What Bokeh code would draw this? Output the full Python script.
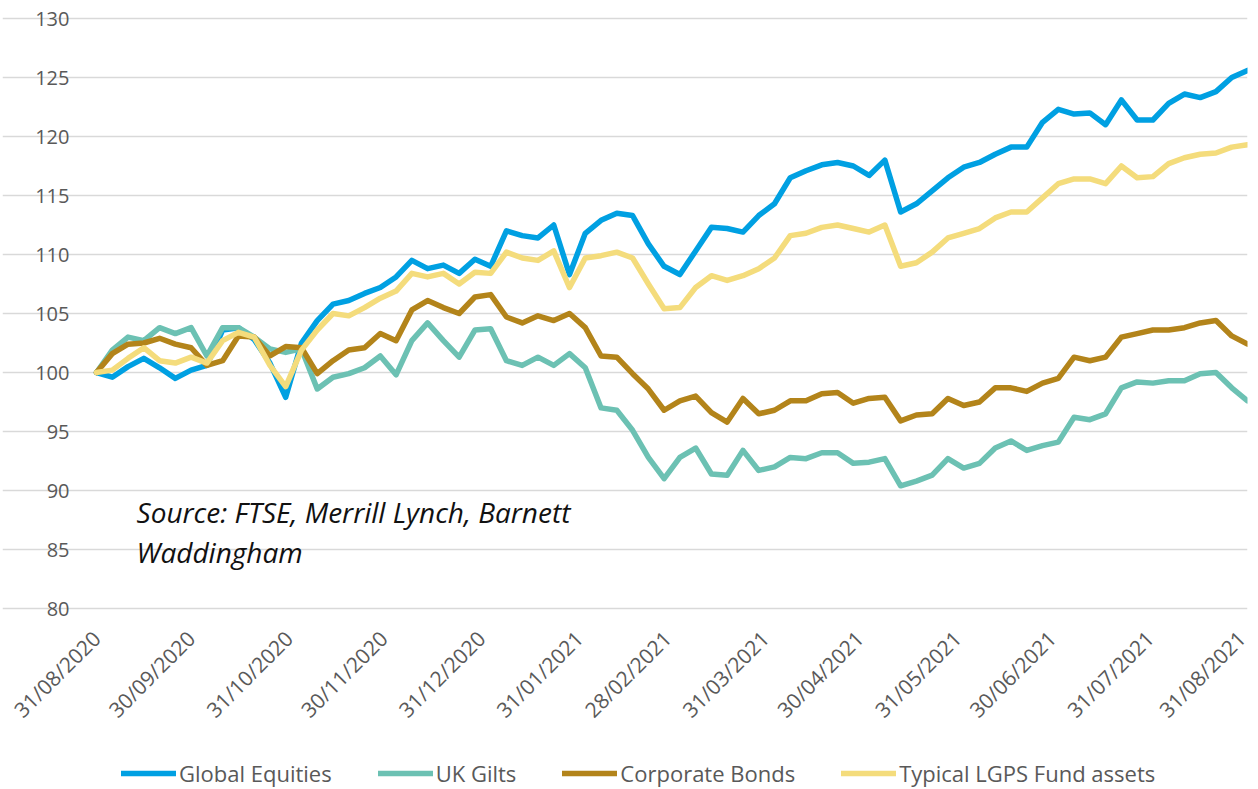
import pandas as pd
from math import pi
from bokeh.plotting import figure
from bokeh.models import Legend, LegendItem, FixedTicker, Label, ColumnDataSource
from bokeh.embed import file_html
from bokeh.resources import INLINE

# ---- data (index every 5 days from 31/08/2020) ----
start_date = "2020-08-31"
step_days = 5

global_equities = [100.0, 99.6, 100.5, 101.2, 100.4, 99.5, 100.2, 100.6, 103.6, 103.8,
                   102.8, 100.8, 97.9, 102.5, 104.4, 105.8, 106.1, 106.7, 107.2, 108.1,
                   109.5, 108.8, 109.1, 108.4, 109.6, 109.0, 112.0, 111.6, 111.4, 112.5,
                   108.3, 111.8, 112.9, 113.5, 113.3, 110.9, 109.0, 108.3, 110.3, 112.3,
                   112.2, 111.9, 113.3, 114.3, 116.5, 117.1, 117.6, 117.8, 117.5, 116.7,
                   118.0, 113.6, 114.3, 115.4, 116.5, 117.4, 117.8, 118.5, 119.1, 119.1,
                   121.2, 122.3, 121.9, 122.0, 121.0, 123.1, 121.4, 121.4, 122.8, 123.6,
                   123.3, 123.8, 125.0, 125.6]

uk_gilts = [100.0, 101.9, 103.0, 102.7, 103.8, 103.3, 103.8, 101.4, 103.8, 103.8,
            103.0, 102.0, 101.7, 102.0, 98.6, 99.6, 99.9, 100.4, 101.4, 99.8,
            102.7, 104.2, 102.7, 101.3, 103.6, 103.7, 101.0, 100.6, 101.3, 100.6,
            101.6, 100.4, 97.0, 96.8, 95.1, 92.8, 91.0, 92.8, 93.6, 91.4,
            91.3, 93.4, 91.7, 92.0, 92.8, 92.7, 93.2, 93.2, 92.3, 92.4,
            92.7, 90.4, 90.8, 91.3, 92.7, 91.9, 92.3, 93.6, 94.2, 93.4,
            93.8, 94.1, 96.2, 96.0, 96.5, 98.7, 99.2, 99.1, 99.3, 99.3,
            99.9, 100.0, 98.7, 97.6]

corporate_bonds = [100.0, 101.6, 102.4, 102.5, 102.9, 102.4, 102.1, 100.6, 101.0, 103.1,
                   103.0, 101.4, 102.2, 102.1, 99.9, 101.0, 101.9, 102.1, 103.3, 102.7,
                   105.3, 106.1, 105.5, 105.0, 106.4, 106.6, 104.7, 104.2, 104.8, 104.4,
                   105.0, 103.8, 101.4, 101.3, 99.9, 98.6, 96.8, 97.6, 98.0, 96.6,
                   95.8, 97.8, 96.5, 96.8, 97.6, 97.6, 98.2, 98.3, 97.4, 97.8,
                   97.9, 95.9, 96.4, 96.5, 97.8, 97.2, 97.5, 98.7, 98.7, 98.4,
                   99.1, 99.5, 101.3, 101.0, 101.3, 103.0, 103.3, 103.6, 103.6, 103.8,
                   104.2, 104.4, 103.1, 102.4]

typical_lgps = [100.0, 100.2, 101.2, 102.1, 101.0, 100.8, 101.3, 100.8, 102.7, 103.4,
                103.0, 100.6, 98.8, 101.9, 103.6, 105.0, 104.8, 105.5, 106.3, 106.9,
                108.4, 108.1, 108.4, 107.5, 108.5, 108.4, 110.2, 109.7, 109.5, 110.3,
                107.2, 109.7, 109.9, 110.2, 109.7, 107.5, 105.4, 105.5, 107.2, 108.2,
                107.8, 108.2, 108.8, 109.7, 111.6, 111.8, 112.3, 112.5, 112.2, 111.9,
                112.5, 109.0, 109.3, 110.2, 111.4, 111.8, 112.2, 113.1, 113.6, 113.6,
                114.8, 116.0, 116.4, 116.4, 116.0, 117.5, 116.5, 116.6, 117.7, 118.2,
                118.5, 118.6, 119.1, 119.3]

series_names = ["Global Equities", "UK Gilts", "Corporate Bonds", "Typical LGPS Fund assets"]
series_colors = ["#00A0E2", "#6CC1B3", "#B3841A", "#F4DC7C"]

x_tick_labels = ["31/08/2020", "30/09/2020", "31/10/2020", "30/11/2020", "31/12/2020",
                 "31/01/2021", "28/02/2021", "31/03/2021", "30/04/2021", "31/05/2021",
                 "30/06/2021", "31/07/2021", "31/08/2021"]
y_ticks = [80, 85, 90, 95, 100, 105, 110, 115, 120, 125, 130]
source_lines = ["Source: FTSE, Merrill Lynch, Barnett", "Waddingham"]

# ---- build ----
t0 = pd.Timestamp(start_date)
dates = pd.date_range(start_date, periods=len(global_equities), freq=f"{step_days}D")
days = [(d - t0).days for d in dates]
tick_pos = [(pd.to_datetime(s, format="%d/%m/%Y") - t0).days for s in x_tick_labels]

FONT = "Open Sans"
GREY = "#595959"

# The frame is extended left of the first date, above 130 and below the 80 line
# so that the axes (placed at fixed locations) and the legend are drawn inside it.
PLOT_W = 1151                      # pixels spanned by the date range
PX_PER_DAY = PLOT_W / tick_pos[-1]
LEFT_EXTRA = 94                    # pixels left of the first date
PX_PER_UNIT = 11.8
TOP_EXTRA = 18                     # pixels above the 130 line
BELOW_H = 771                      # pixels from the 130 line to the bottom
y_top = y_ticks[-1] + TOP_EXTRA / PX_PER_UNIT
y_bottom = y_ticks[-1] - BELOW_H / PX_PER_UNIT
x_start = -LEFT_EXTRA / PX_PER_DAY

p = figure(frame_width=PLOT_W + LEFT_EXTRA, frame_height=BELOW_H + TOP_EXTRA,
           output_backend="svg", toolbar_location=None,
           x_range=(x_start, tick_pos[-1]), y_range=(y_bottom, y_top),
           min_border_left=2, min_border_right=4, min_border_top=0, min_border_bottom=0)
p.outline_line_color = None
p.background_fill_color = "white"

p.xgrid.grid_line_color = None
p.ygrid.grid_line_color = "#D9D9D9"
p.ygrid.grid_line_width = 1.5
p.ygrid.bounds = (0, tick_pos[-1])
p.yaxis.ticker = FixedTicker(ticks=y_ticks)
p.xaxis.ticker = FixedTicker(ticks=tick_pos)
p.xaxis.major_label_overrides = {tp: lab for tp, lab in zip(tick_pos, x_tick_labels)}
p.xaxis.fixed_location = y_ticks[0]
p.yaxis.fixed_location = 0

for ax in (p.xaxis[0], p.yaxis[0]):
    ax.axis_line_color = None
    ax.major_tick_line_color = None
    ax.minor_tick_line_color = None
    ax.major_tick_out = 0
    ax.major_label_text_font = FONT
    ax.major_label_text_color = GREY
p.yaxis.major_label_text_font_size = "20px"
p.xaxis.major_label_text_font_size = "21px"
p.yaxis.major_label_standoff = 27
p.xaxis.major_label_standoff = 26
p.xaxis.major_label_orientation = pi / 4

renderers = []
for name, vals, col in zip(series_names,
                           [global_equities, uk_gilts, corporate_bonds, typical_lgps],
                           series_colors):
    src = ColumnDataSource(dict(x=days, y=vals))
    r = p.line("x", "y", source=src, line_color=col, line_width=5.5,
               line_join="round", line_cap="round")
    renderers.append((name, r))

legend = Legend(items=[LegendItem(label=n, renderers=[r]) for n, r in renderers],
                orientation="horizontal", location=(119, 1),
                label_text_font=FONT, label_text_font_size="22px",
                label_text_color=GREY, glyph_width=55, glyph_height=20,
                label_standoff=3, spacing=46, padding=0, margin=0,
                border_line_color=None, background_fill_alpha=0)
p.add_layout(legend, "center")

for txt, yv in zip(source_lines, [88.14, 84.83]):
    p.add_layout(Label(x=12.7, y=yv, text=txt, text_font=FONT, text_font_size="28px",
                       text_font_style="italic", text_color="#111111",
                       text_baseline="alphabetic"))

open("out.html", "w").write(file_html(p, INLINE))
